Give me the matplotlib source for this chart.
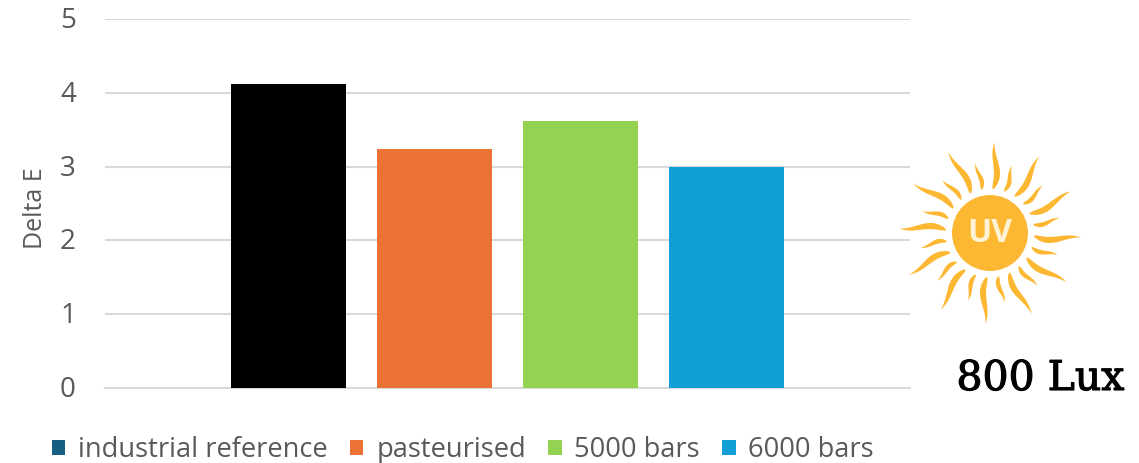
import numpy as np
import matplotlib
matplotlib.use("Agg")
import matplotlib.pyplot as plt
import matplotlib.patheffects as pe
from matplotlib.patches import Patch, Circle, Polygon
from matplotlib.transforms import ScaledTranslation

series_names = ["industrial reference", "pasteurised", "5000 bars", "6000 bars"]
delta_e = [4.12, 3.24, 3.62, 2.99]
bar_colors = ["#000000", "#EA7233", "#94D352", "#119FD8"]
legend_colors = ["#156082", "#EA7233", "#94D352", "#119FD8"]
y_ticks = [0, 1, 2, 3, 4, 5]

W, H = 1139, 463
fig = plt.figure(figsize=(W / 100, H / 100), dpi=100, facecolor="white")
plt.rcParams["font.family"] = ["Open Sans", "DejaVu Sans"]

ax = fig.add_axes([105 / W, 1 - 388 / H, 805 / W, 369 / H])
x = np.arange(len(delta_e)) - 1.5
ax.bar(x, delta_e, width=0.79, color=bar_colors, zorder=3)
ax.set_xlim(-2.757, 2.757)
ax.set_ylim(0, 5)
ax.set_xticks([])
ax.set_yticks(y_ticks)
ax.tick_params(axis="y", length=0, pad=21, labelsize=20, labelcolor="#595959")
# Lift the tick labels slightly so the digits sit centred on the gridlines
lift = ScaledTranslation(0, 1.5 / 100, fig.dpi_scale_trans)
for label in ax.get_yticklabels():
    label.set_transform(label.get_transform() + lift)
ax.grid(axis="y", color="#D9D9D9", linewidth=1.5, zorder=0)
ax.set_axisbelow(True)
for spine in ax.spines.values():
    spine.set_visible(False)
ax.axhline(0, color="#D9D9D9", linewidth=1.5, zorder=1, clip_on=False)
ax.set_ylabel("Delta E", fontsize=18, color="#595959")
ax.yaxis.set_label_coords(-57 / 805, (388 - 208) / 369)

handles = [Patch(facecolor=c, edgecolor="none") for c in legend_colors]
fig.legend(handles, series_names, loc="lower left", bbox_to_anchor=(52 / W, -1 / H),
           ncol=4, frameon=False, fontsize=19.6, labelcolor="#595959",
           handlelength=0.49, handleheight=0.49, handletextpad=0.47,
           columnspacing=0.82, borderpad=0, borderaxespad=0)

# Sun emblem in pixel coordinates on a full-figure overlay
overlay = fig.add_axes([0, 0, 1, 1], facecolor="none")
overlay.set_xlim(0, W)
overlay.set_ylim(H, 0)
overlay.axis("off")
cx, cy = 990, 233
sun = "#FDB833"
overlay.add_patch(Circle((cx, cy), 38, color=sun, lw=0))
overlay.text(cx, cy + 1, "UV", color="#FFF3D6", fontsize=23, ha="center", va="center",
             family="Open Sans", fontweight="bold")


def ray(angle_deg, r0, r1, amp, w0):
    """Tapered S-shaped flame running outwards from the disc."""
    t = np.linspace(0, 1, 60)
    r = r0 + (r1 - r0) * t
    off = amp * np.sin(1.6 * np.pi * t) * (1 - 0.35 * t)
    half = w0 * 2.4 * t ** 0.55 * (1 - t) ** 1.05
    a = np.deg2rad(angle_deg)
    ux, uy = np.cos(a), np.sin(a)
    vx, vy = -uy, ux
    left = np.c_[cx + r * ux + (off + half) * vx, cy + r * uy + (off + half) * vy]
    right = np.c_[cx + r * ux + (off - half) * vx, cy + r * uy + (off - half) * vy]
    return np.vstack([left, right[::-1]])


for i in range(24):
    long_ray = i % 2 == 0
    angle = -86 + 15 * i
    overlay.add_patch(Polygon(ray(angle, 44, 91 if long_ray else 71,
                                  3.2 if long_ray else 2.0,
                                  3.6 if long_ray else 2.6),
                              closed=True, color=sun, lw=0))

overlay.text(1040.5, 379, "800 Lux", fontsize=29.5, color="#000000", ha="center", va="center",
             family="DejaVu Serif",
             path_effects=[pe.withStroke(linewidth=0.8, foreground="#000000")])

fig.savefig("out.png", dpi=100)
